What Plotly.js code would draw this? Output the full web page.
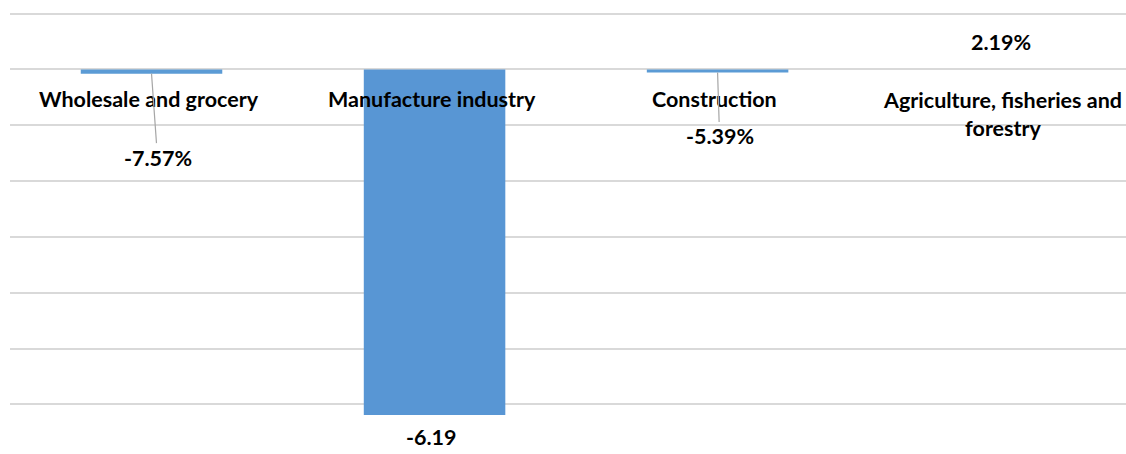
<!DOCTYPE html>
<html>
<head>
<meta charset="utf-8">
<script src="https://cdn.plot.ly/plotly-3.0.1.min.js"></script>
<style>html,body{margin:0;padding:0;background:#fff;}#chart{width:1126px;height:454px;}</style>
</head>
<body>
<div id="chart"></div>
<script>
// Categories and drawn bar values (one gridline = 1 unit)
const categories = ["Wholesale and grocery", "Manufacture industry", "Construction", "Agriculture, fisheries and<br>forestry"];
const values = [-0.0757, -6.19, -0.0539, 0.0219];
const valueLabels = ["-7.57%", "-6.19", "-5.39%", "2.19%"];
const yTicks = [1, 0, -1, -2, -3, -4, -5, -6];

const FONT = "Lato, 'Open Sans', sans-serif";
const FS = 21.5;
const barColor = ["#5b9bd5", "#5896d4", "#5b9bd5", "#d9d9d9"];

const trace = {
  type: "bar",
  x: categories.map((c, i) => i),
  y: values,
  width: 0.5,
  marker: {color: barColor, line: {width: 0}},
  hoverinfo: "skip",
  cliponaxis: false
};

const annotations = [];
// category labels just below the zero line
categories.forEach((c, i) => {
  annotations.push({
    x: i, y: 0, xref: "x", yref: "y",
    text: "<b>" + c + "</b>", showarrow: false,
    yshift: -30 - (c.includes("<br>") ? 15 : 0),
    xshift: i === 3 ? 2 : -3,
    font: {family: FONT, size: FS, color: "#000"},
    align: "center"
  });
});
// value labels
const labelPos = [
  {ax: 6, ay: 84, arrow: true},
  {ax: -3, ay: 0, arrow: false, yshift: -22},
  {ax: 2, ay: 64, arrow: true},
  {ax: 0, ay: 0, arrow: false, yshift: 26}
];
values.forEach((v, i) => {
  const p = labelPos[i];
  const a = {
    x: i, y: v, xref: "x", yref: "y",
    text: "<b>" + valueLabels[i] + "</b>",
    font: {family: FONT, size: FS, color: "#000"},
    showarrow: p.arrow
  };
  if (p.arrow) {
    a.ax = p.ax; a.ay = p.ay; a.axref = "pixel"; a.ayref = "pixel";
    a.arrowhead = 0; a.arrowwidth = 1.2; a.arrowcolor = "#a6a6a6";
  } else {
    a.xshift = p.ax; a.yshift = p.yshift;
  }
  annotations.push(a);
});

const layout = {
  width: 1126, height: 454,
  margin: {l: 10, r: 0, t: 8, b: 5, pad: 0},
  paper_bgcolor: "#fff", plot_bgcolor: "#fff",
  showlegend: false,
  xaxis: {
    type: "linear", range: [-0.5, 3.443], showgrid: false, zeroline: false,
    showticklabels: false, ticks: "", fixedrange: true
  },
  yaxis: {
    range: [-6.8, 1.1], tickvals: yTicks, showticklabels: false, ticks: "",
    showgrid: true, gridcolor: "#d9d9d9", gridwidth: 2,
    zeroline: true, zerolinecolor: "#d9d9d9", zerolinewidth: 2, fixedrange: true
  },
  annotations: annotations
};

Plotly.newPlot("chart", [trace], layout, {displayModeBar: false, staticPlot: true});
</script>
</body>
</html>
